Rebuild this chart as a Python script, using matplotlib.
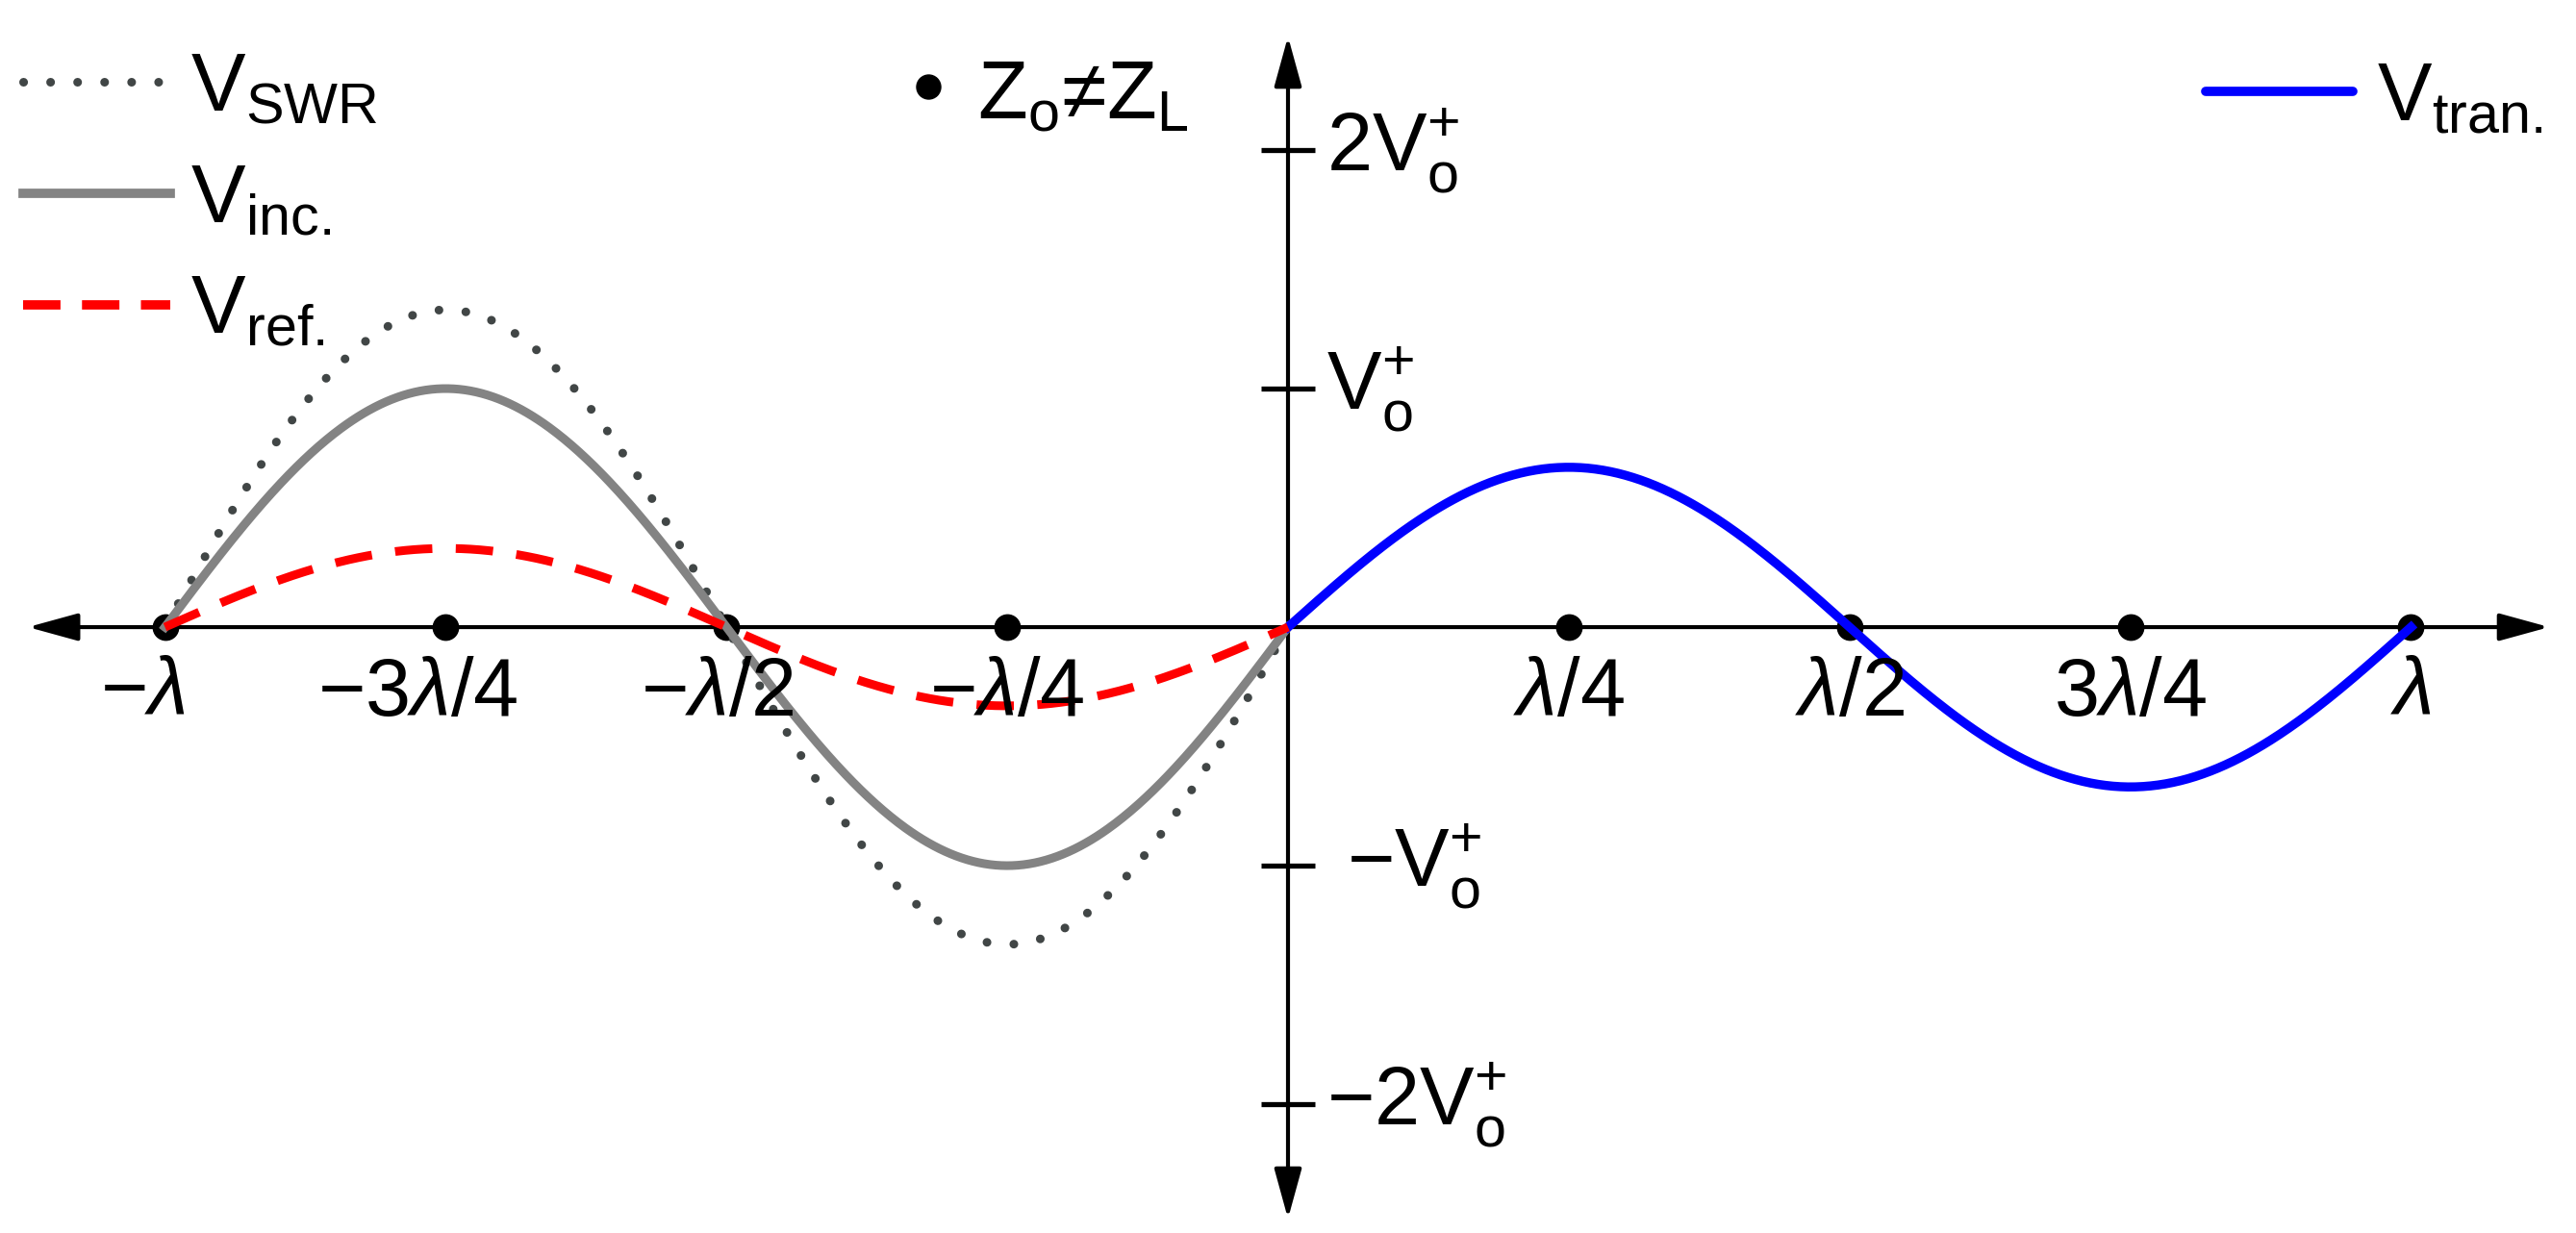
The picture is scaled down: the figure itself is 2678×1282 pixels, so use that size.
import numpy as np
import matplotlib
matplotlib.use("Agg")
import matplotlib.pyplot as plt
from matplotlib.lines import Line2D

plt.rcParams['font.family'] = ['Liberation Sans', 'DejaVu Sans']
plt.rcParams['mathtext.fontset'] = 'custom'
plt.rcParams['mathtext.rm'] = 'Liberation Sans'
plt.rcParams['mathtext.it'] = 'Liberation Sans:italic'
plt.rcParams['mathtext.bf'] = 'Liberation Sans:bold'
plt.rcParams['mathtext.fallback'] = 'stixsans'

# amplitudes (in units of V_o+)
amp_swr = 1.33
amp_inc = 1.0
amp_ref = 0.33
amp_tran = 0.67

# positions along the line, in wavelengths
x_ticks = [-1.0, -0.75, -0.5, -0.25, 0.25, 0.5, 0.75, 1.0]
x_labels = [r'$-\lambda$', r'$-3\lambda/4$', r'$-\lambda/2$', r'$-\lambda/4$',
            r'$\lambda/4$', r'$\lambda/2$', r'$3\lambda/4$', r'$\lambda$']
y_ticks = [2, 1, -1, -2]
y_labels = [r'$2\mathrm{V}_\mathrm{o}^{+}$', r'$\mathrm{V}_\mathrm{o}^{+}$',
            r'$-\mathrm{V}_\mathrm{o}^{+}$', r'$-2\mathrm{V}_\mathrm{o}^{+}$']

x_load = np.linspace(-1, 0, 600)   # source side
x_tran = np.linspace(0, 1, 600)    # transmitted side

fig = plt.figure(figsize=(26.78, 12.82), dpi=100)
ax = fig.add_axes([0, 0, 1, 1])
ax.set_xlim(-1.1469, 1.1469)
ax.set_ylim(-2.540, 2.629)
ax.axis('off')

fs = 61

# axes with arrows
arrow = dict(arrowstyle='<|-|>,head_length=0.8,head_width=0.22', lw=3.0,
             color='black', mutation_scale=40, shrinkA=0, shrinkB=0)
ax.annotate('', xy=(1.123, 0), xytext=(-1.122, 0), arrowprops=arrow, zorder=1)
ax.annotate('', xy=(0, 2.476), xytext=(0, -2.48), arrowprops=arrow, zorder=1)

# y ticks
ax.hlines(y_ticks, -0.024, 0.024, colors='black', lw=3.8, zorder=1)
ylab_shift = {-1: 0.018}
for yv, lab in zip(y_ticks, y_labels):
    ax.text(0.034 + ylab_shift.get(yv, 0), yv, lab, fontsize=fs,
            ha='left', va='center')

# x tick dots and labels
ax.plot(x_ticks, np.zeros(len(x_ticks)), 'o', color='black', ms=19, zorder=2)
xlab_shift = {-1.0: -0.02, -0.75: -0.025, -0.5: -0.008}
for xv, lab in zip(x_ticks, x_labels):
    ax.text(xv + xlab_shift.get(xv, 0), -0.12, lab, fontsize=fs,
            ha='center', va='top', zorder=5)

# curves
swr_style = (0, (0.01, 3.1))
ref_style = (0, (4.3, 2.7))
ax.plot(x_load, amp_swr * np.sin(2 * np.pi * x_load), color='#414646',
        lw=6.5, linestyle=swr_style, dash_capstyle='round', zorder=3)
ax.plot(x_load, amp_inc * np.sin(2 * np.pi * x_load), color='#838383',
        lw=6.5, zorder=3)
ax.plot(x_load, amp_ref * np.sin(2 * np.pi * x_load), color='#ff0000',
        lw=6.5, linestyle=ref_style, zorder=4)
ax.plot(x_tran, amp_tran * np.sin(2 * np.pi * x_tran), color='#0000ff',
        lw=6.8, zorder=3)

# legends
h_swr = Line2D([], [], color='#414646', lw=6.5, linestyle=swr_style,
               dash_capstyle='round')
h_inc = Line2D([], [], color='#838383', lw=7)
h_ref = Line2D([], [], color='#ff0000', lw=7, linestyle=(0, (4.0, 2.3)))
h_tran = Line2D([], [], color='#0000ff', lw=7, solid_capstyle='round')

leg1 = ax.legend([h_swr, h_inc, h_ref],
                 [r'$\mathrm{V}_\mathrm{SWR}$', r'$\mathrm{V}_\mathrm{inc.}$',
                  r'$\mathrm{V}_\mathrm{ref.}$'],
                 loc='upper left', bbox_to_anchor=(24 / 2678, 1 - 53 / 1282),
                 bbox_transform=fig.transFigure, frameon=False, fontsize=fs,
                 borderpad=0, borderaxespad=0, handlelength=1.8,
                 handletextpad=0.25, labelspacing=0.42)
ax.add_artist(leg1)
ax.legend([h_tran], [r'$\mathrm{V}_\mathrm{tran.}$'], loc='upper left',
          bbox_to_anchor=(2293 / 2678, 1 - 63 / 1282),
          bbox_transform=fig.transFigure, frameon=False, fontsize=fs,
          borderpad=0, borderaxespad=0, handlelength=1.8, handletextpad=0.3)

# impedance note
ax.plot([-0.320], [2.266], 'o', color='black', ms=18)
ax.text(-0.277, 2.133, r'$\mathrm{Z_o}$≠$\mathrm{Z_L}$', fontsize=fs,
        ha='left', va='baseline')

fig.savefig('out.png', dpi=100)
